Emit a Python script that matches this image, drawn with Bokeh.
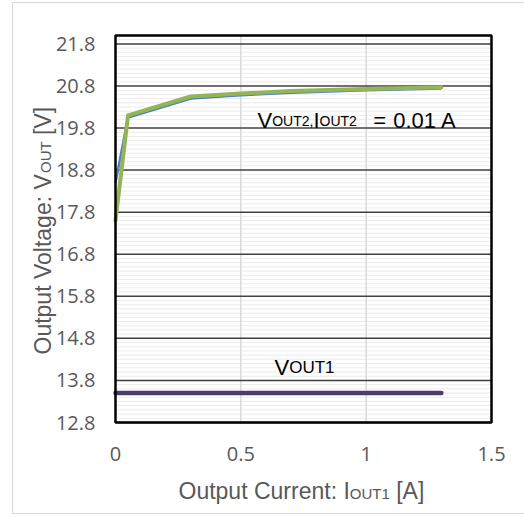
from bokeh.embed import file_html
from bokeh.models import (ColumnDataSource, FixedTicker, Label, LinearAxis,
                          NumeralTickFormatter)
from bokeh.plotting import figure
from bokeh.resources import INLINE
import math

# ---- data -----------------------------------------------------------------
iout1 = [0.0, 0.05, 0.3, 0.5, 0.7, 1.0, 1.3]               # I_OUT1 [A]
vout1 = [13.5, 13.5, 13.5, 13.5, 13.5, 13.5, 13.5]          # V_OUT1 [V]
vout2_a = [18.5, 20.05, 20.5, 20.58, 20.64, 20.7, 20.74]    # V_OUT2, blue trace
vout2_b = [17.6, 20.1, 20.55, 20.62, 20.68, 20.73, 20.77]   # V_OUT2, green trace

x_ticks = [0, 0.5, 1, 1.5]
x_grid = [0.5, 1]
y_ticks = [12.8, 13.8, 14.8, 15.8, 16.8, 17.8, 18.8, 19.8, 20.8, 21.8]
y_minor = [round(12.8 + 0.1 * i, 1) for i in range(1, 92) if i % 10]
X_MIN, X_MAX = 0.0, 1.5
Y_MIN, Y_MAX = 12.8, 22.0

# ---- layout: the frame fills the whole canvas, the plot box sits inside ----
W, H = 524, 517
BOX_L, BOX_R, BOX_T, BOX_B = 115, 491, 35, 422      # plot box in pixels
sx = (BOX_R - BOX_L) / (X_MAX - X_MIN)
sy = (BOX_B - BOX_T) / (Y_MAX - Y_MIN)
x_range = (X_MIN - BOX_L / sx, X_MAX + (W - BOX_R) / sx)
y_range = (Y_MIN - (H - BOX_B) / sy, Y_MAX + BOX_T / sy)


def px_x(px):
    return x_range[0] + px / sx


def px_y(py):
    return y_range[1] - py / sy


p = figure(width=W, height=H, x_range=x_range, y_range=y_range,
           output_backend="svg", toolbar_location=None, title=None,
           x_axis_type=None, y_axis_type=None,
           min_border=0, min_border_left=0, min_border_right=0,
           min_border_top=0, min_border_bottom=0)
p.background_fill_color = "white"
p.border_fill_color = "white"
p.outline_line_color = None
p.xgrid.visible = False
p.ygrid.visible = False

# axes pinned to the plot box edges
xaxis = LinearAxis(ticker=FixedTicker(ticks=x_ticks),
                   formatter=NumeralTickFormatter(format="0.[0]"),
                   fixed_location=Y_MIN)
yaxis = LinearAxis(ticker=FixedTicker(ticks=y_ticks),
                   formatter=NumeralTickFormatter(format="0.0"),
                   fixed_location=X_MIN)
for ax in (xaxis, yaxis):
    ax.axis_line_color = None
    ax.major_tick_line_color = None
    ax.minor_tick_line_color = None
    ax.major_tick_out = 0
    ax.major_tick_in = 0
    ax.minor_tick_out = 0
    ax.major_label_text_font = "Open Sans"
    ax.major_label_text_font_size = "20px"
    ax.major_label_text_color = "#595959"
xaxis.major_label_standoff = 24
yaxis.major_label_standoff = 20
p.add_layout(xaxis, "below")
p.add_layout(yaxis, "left")

# outer chart border (open on the right, where the chart area is cut off)
p.line(x=[px_x(W + 5), px_x(12), px_x(12), px_x(W + 5)],
       y=[px_y(2), px_y(2), px_y(513), px_y(513)],
       line_color="#d9d9d9", line_width=1)

# grid lines inside the plot box
n_min = len(y_minor)
p.segment(x0=[X_MIN] * n_min, x1=[X_MAX] * n_min, y0=y_minor, y1=y_minor,
          line_color="#ececec", line_width=1)
p.segment(x0=x_grid, x1=x_grid, y0=[Y_MIN] * len(x_grid),
          y1=[Y_MAX] * len(x_grid), line_color="#d9d9d9", line_width=1.5)
p.segment(x0=[X_MIN] * len(y_ticks), x1=[X_MAX] * len(y_ticks),
          y0=y_ticks, y1=y_ticks, line_color="#404040", line_width=1.5)

src = ColumnDataSource(dict(i=iout1, v1=vout1, v2a=vout2_a, v2b=vout2_b))
p.line("i", "v2a", source=src, line_color="#4f7fbf", line_width=2.5)
p.line("i", "v2b", source=src, line_color="#93b556", line_width=4,
       line_cap="round", line_join="round")
p.line("i", "v1", source=src, line_color="#4b3c6b", line_width=4.5,
       line_cap="round")

# plot box border
p.quad(left=[X_MIN], right=[X_MAX], bottom=[Y_MIN], top=[Y_MAX],
       fill_color=None, line_color="black", line_width=2.5)

# ---- text with subscripts -------------------------------------------------
ARIAL = {' ': 278, 'O': 778, 'u': 556, 't': 278, 'p': 556, 'V': 667, 'o': 556,
         'l': 222, 'a': 556, 'g': 556, 'e': 556, ':': 278, '[': 278, ']': 278,
         'C': 722, 'r': 333, 'n': 556, 'I': 278, 'U': 722, 'T': 611, '1': 556,
         '2': 556, ',': 278, '=': 584, '0': 556, '.': 278, 'A': 667}


def run_width(text, size):
    return sum(ARIAL[c] for c in text) * size / 1000.0


def rich_text(runs, x, y, color, vertical=False):
    """Place runs of (text, font size, baseline drop, gap before) in a row.

    x, y are canvas pixels from the left and from the top."""
    pos = 0.0
    for text, size, drop, gap in runs:
        pos += gap
        lead = len(text) - len(text.lstrip(" "))
        pos += run_width(" " * lead, size)
        body = text.strip(" ")
        if vertical:
            lx, ly = x + drop, y - pos
        else:
            lx, ly = x + pos, y + drop
        p.add_layout(Label(x=lx, y=H - ly, x_units="screen", y_units="screen",
                           text=body, text_font="Liberation Sans",
                           text_font_size=f"{size}px", text_color=color,
                           text_align="left", text_baseline="alphabetic",
                           angle=math.pi / 2 if vertical else 0))
        pos += run_width(text.lstrip(" "), size)


rich_text([("V", 22, 0, 0), ("OUT2,", 14, 0, 0), ("I", 22, 0, 0),
           ("OUT2", 14, 0, 0), ("=", 22, 0, 16.5), ("0.01 A", 22, 0, 7)],
          257, 120, "black")
rich_text([("V", 22, 0, 0), ("OUT1", 17, 0, 0)], 274, 367, "black")
rich_text([("Output Current: I", 23, 0, 0), ("OUT1", 15, 3, 0),
           (" [A]", 23, 0, 0)], 178, 490, "#595959")
rich_text([("Output Voltage: V", 23, 0, 0), ("OUT", 15, 3, 0),
           (" [V]", 23, 0, 0)], 42, 354, "#595959", vertical=True)

open("out.html", "w").write(file_html(p, INLINE))
